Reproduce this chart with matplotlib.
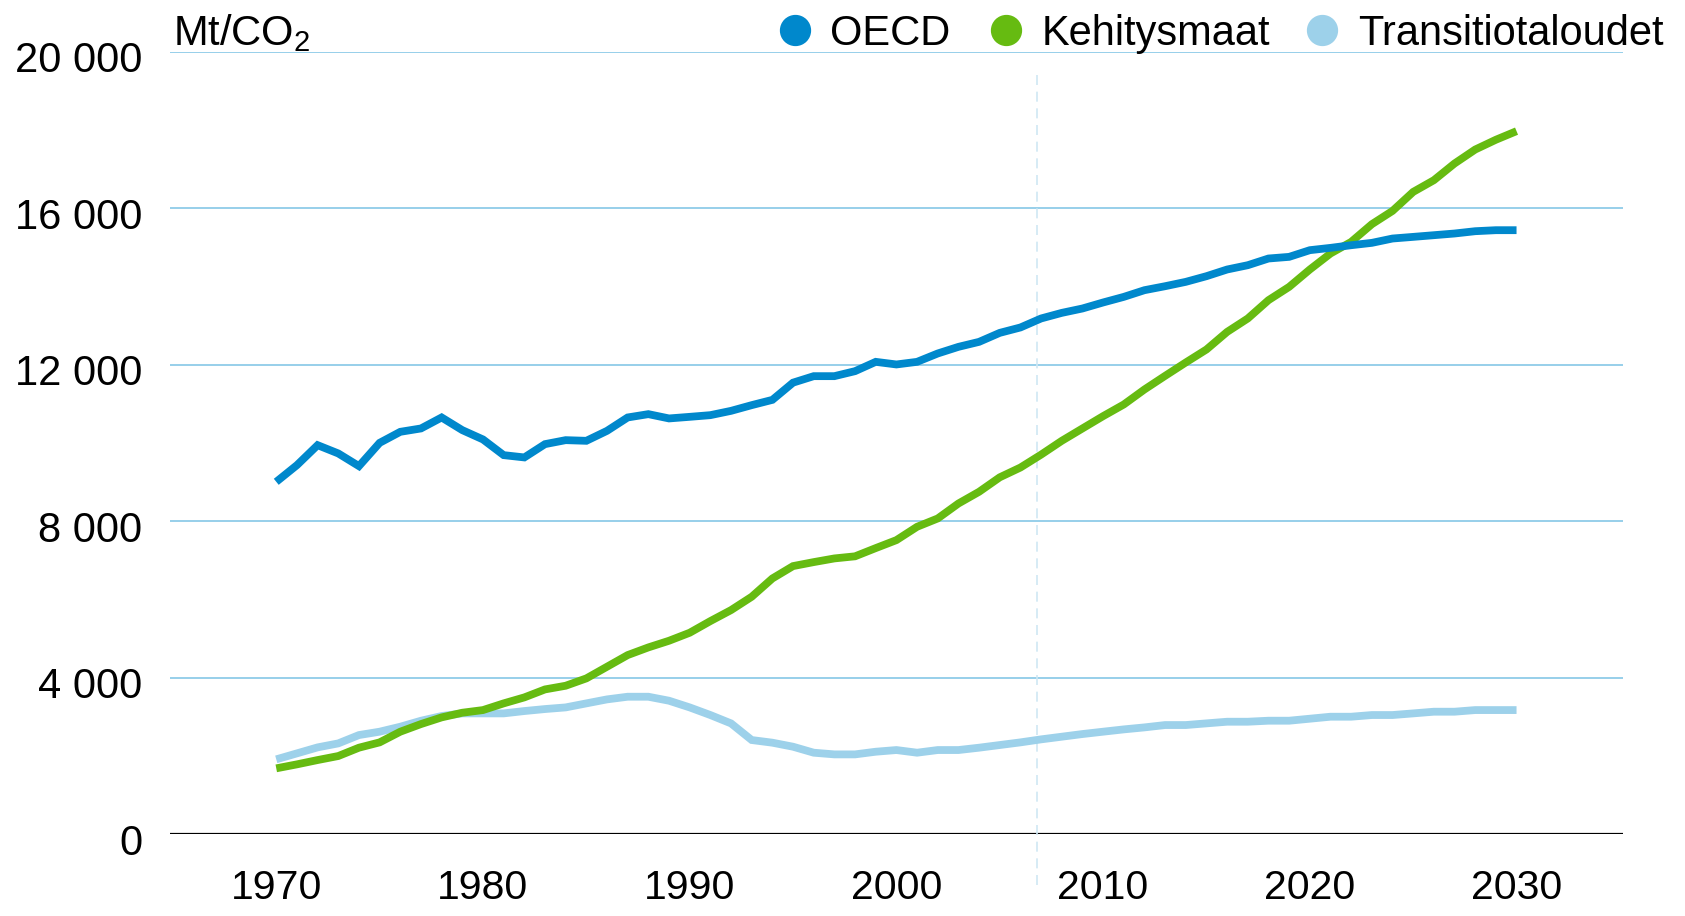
import matplotlib
matplotlib.use('Agg')
import matplotlib.pyplot as plt
import matplotlib.transforms as mtransforms
import numpy as np

plt.rcParams['font.family'] = ['Liberation Sans', 'DejaVu Sans']
plt.rcParams['mathtext.fontset'] = 'custom'
plt.rcParams['mathtext.rm'] = 'Liberation Sans'

# --- data (Mt CO2) ---
years = list(range(1970, 2031))
oecd = [9005, 9431, 9942, 9730, 9406, 10001, 10283, 10369, 10650, 10326,
        10088, 9687, 9628, 9968, 10070, 10053, 10308, 10650, 10735, 10625,
        10666, 10709, 10819, 10965, 11100, 11540, 11706, 11706, 11834, 12072,
        12005, 12072, 12286, 12455, 12583, 12813, 12951, 13181, 13324, 13436,
        13590, 13733, 13904, 14006, 14117, 14262, 14433, 14543, 14714, 14756,
        14927, 14986, 15054, 15114, 15225, 15267, 15310, 15353, 15412, 15438,
        15438]
kehitysmaat = [1679, 1781, 1891, 1994, 2207, 2343, 2616, 2811, 2982, 3101,
               3169, 3340, 3493, 3697, 3791, 3979, 4277, 4575, 4771, 4941,
               5146, 5444, 5725, 6066, 6534, 6850, 6952, 7046, 7100, 7310,
               7514, 7855, 8068, 8450, 8750, 9120, 9370, 9700, 10053, 10369,
               10684, 10982, 11366, 11714, 12056, 12388, 12838, 13181, 13649, 13989,
               14433, 14842, 15139, 15591, 15931, 16417, 16716, 17143, 17500, 17750,
               17970]
transitio = [1909, 2062, 2215, 2317, 2530, 2616, 2743, 2896, 3016, 3084,
             3084, 3084, 3144, 3195, 3237, 3340, 3442, 3510, 3510, 3408,
             3237, 3042, 2828, 2403, 2335, 2232, 2079, 2036, 2036, 2104,
             2147, 2079, 2147, 2147, 2207, 2275, 2343, 2420, 2488, 2556,
             2616, 2675, 2726, 2786, 2786, 2829, 2871, 2871, 2897, 2897,
             2948, 2999, 2999, 3042, 3042, 3084, 3127, 3127, 3169, 3169,
             3169]

series_names = ['OECD', 'Kehitysmaat', 'Transitiotaloudet']
colors = ['#0088cc', '#66bb11', '#9dd1ea']
yticks = [0, 4000, 8000, 12000, 16000, 20000]
ytick_labels = ['0', '4 000', '8 000', '12 000', '16 000', '20 000']
xticks = [1970, 1980, 1990, 2000, 2010, 2020, 2030]
split_year = 2006.8

fig = plt.figure(figsize=(16.85, 9.16), dpi=100)
ax = fig.add_axes([0.1009, 0.0895, 0.8623, 0.8540])

for i in range(1, len(yticks)):
    ax.axhline(yticks[i], color='#8fcbe8', lw=1.3, zorder=1)
ax.axhline(0, color='black', lw=1.6, zorder=1)

ax.axvline(split_year, ymin=-0.065, ymax=0.976, color='#cfe7f4', lw=1.2,
           dashes=(6, 4), clip_on=False, zorder=1)

for vals, c in zip([transitio, kehitysmaat, oecd], [colors[2], colors[1], colors[0]]):
    ax.plot(years, vals, color=c, lw=5.6, solid_capstyle='butt',
            solid_joinstyle='miter', zorder=3)

ax.set_xlim(1964.86, 2035.15)
ax.set_ylim(0, 20000)
ax.set_yticks(yticks)
ax.set_yticklabels(ytick_labels, fontsize=30)
ax.set_xticks(xticks)
ax.set_xticklabels([str(x) for x in xticks], fontsize=29.5)
ax.tick_params(axis='y', length=0, pad=20)
ax.tick_params(axis='x', length=0, pad=25.5)
for lab in ax.get_yticklabels():
    lab.set_transform(lab.get_transform() + mtransforms.ScaledTranslation(0, -0.05, fig.dpi_scale_trans))
for s in ax.spines.values():
    s.set_visible(False)

# unit label
fig.text(173 / 1685, 1 - 45 / 916, 'Mt/CO$_{\\mathregular{2}}$', fontsize=30,
         ha='left', va='baseline')

# legend, drawn by hand
leg_marker_x = [795, 1006, 1322]
leg_text_x = [830, 1042, 1358]
for name, c, mx, tx in zip(series_names, colors, leg_marker_x, leg_text_x):
    fig.lines.append(plt.Line2D([mx / 1685], [1 - 30 / 916], marker='o', ms=21.5,
                                color=c, transform=fig.transFigure, lw=0))
    fig.text(tx / 1685, 1 - 45 / 916, name, fontsize=30, ha='left', va='baseline')

fig.savefig('out.png', dpi=100)
